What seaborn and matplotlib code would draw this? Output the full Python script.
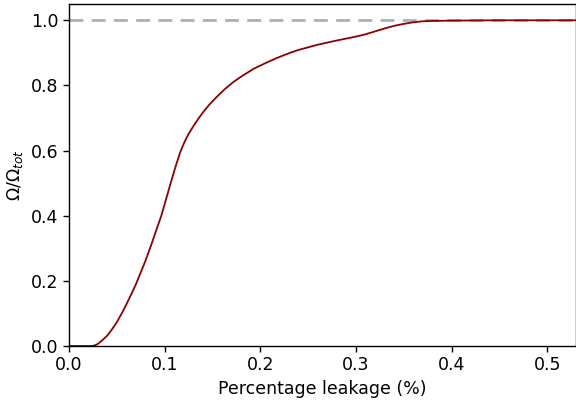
import numpy as np
import pandas as pd
import matplotlib
matplotlib.use("Agg")
import matplotlib.pyplot as plt
import seaborn as sns

leakage = [0.0, 0.01, 0.0237, 0.027, 0.03, 0.0342, 0.04, 0.0447, 0.05, 0.0551, 0.06, 0.0656,
           0.07, 0.076, 0.08, 0.0865, 0.09, 0.0965, 0.1004, 0.105, 0.111, 0.116, 0.121,
           0.125, 0.130, 0.135, 0.1405, 0.147, 0.1545, 0.163, 0.172, 0.182, 0.193,
           0.205, 0.217, 0.23, 0.24, 0.26, 0.28, 0.30, 0.31, 0.32, 0.33, 0.34, 0.35,
           0.36, 0.37, 0.38, 0.40, 0.45, 0.50, 0.53]
omega_ratio = [0.0, 0.0, 0.0, 0.002, 0.006, 0.016, 0.032, 0.050, 0.073, 0.100, 0.128, 0.162,
               0.19, 0.233, 0.262, 0.315, 0.345, 0.40, 0.44, 0.487, 0.547, 0.593, 0.628,
               0.651, 0.675, 0.697, 0.719, 0.742, 0.765, 0.789, 0.811, 0.831, 0.851,
               0.868, 0.884, 0.899, 0.909, 0.925, 0.938, 0.95, 0.957, 0.966, 0.975, 0.983, 0.989,
               0.994, 0.997, 0.998, 0.999, 1.0, 1.0, 1.0]
reference_level = 1.0

df = pd.DataFrame({"leakage": leakage, "ratio": omega_ratio})

sns.set_theme(style="ticks")
plt.rcParams["font.family"] = ["DejaVu Sans"]
plt.rcParams["font.size"] = 12.5
plt.rcParams["text.color"] = "black"
plt.rcParams["axes.labelcolor"] = "black"

fig = plt.figure(figsize=(5.76, 4.01), dpi=100)
ax = fig.add_axes([69/576, 1-346/401, 1-69/576, (346-4)/401])

ax.axhline(reference_level, color="#b0b0b0", linestyle="--", linewidth=2, dashes=(5, 3), zorder=1)
sns.lineplot(data=df, x="leakage", y="ratio", color="#8b0000", linewidth=1.3, ax=ax, zorder=2)

ax.set_xlim(0, 0.53)
ax.set_ylim(0, 1.05)
ax.set_xticks([0.0, 0.1, 0.2, 0.3, 0.4, 0.5])
ax.set_yticks([0.0, 0.2, 0.4, 0.6, 0.8, 1.0])
ax.tick_params(labelsize=12.5, length=4, width=1, colors="black")
ax.set_xlabel("Percentage leakage (%)", fontsize=12.5, color="black")
ax.set_ylabel(r"$\Omega/\Omega_{tot}$", fontsize=12.5, color="black")
for s in ax.spines.values():
    s.set_color("black")
    s.set_linewidth(1)

fig.savefig("out.png", dpi=100)
